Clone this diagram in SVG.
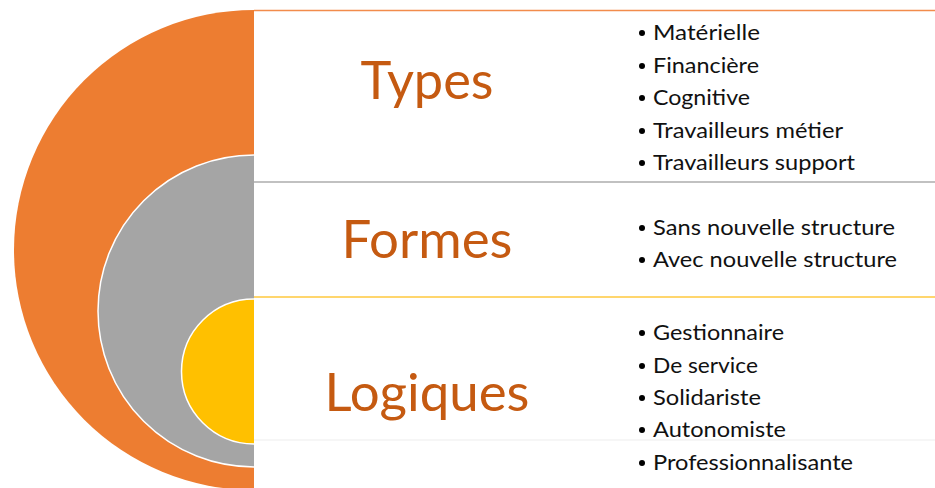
<svg xmlns="http://www.w3.org/2000/svg" width="935" height="488" viewBox="0 0 935 488">
<style>
.title{font-family:Lato,"Open Sans","Liberation Sans",sans-serif;font-size:52px;fill:#C55A11;text-anchor:middle}
.item{font-family:Lato,"Open Sans","Liberation Sans",sans-serif;font-size:21px;fill:#111}
.bul{fill:#000}
.sep{stroke:#fff;stroke-width:1.5;fill:none}
</style>
<rect width="935" height="488" fill="#fff"/>
<g id="types">
<path d="M254,10 A240,240 0 0 0 254,490 Z" fill="#ED7D31"/>
<line x1="254" y1="10.5" x2="935" y2="10.5" stroke="#F28C4C" stroke-width="1.5"/>
<text class="title" x="427" y="99" textLength="133" lengthAdjust="spacingAndGlyphs">Types</text>
<circle class="bul" cx="642" cy="33" r="3"/><text class="item" x="653" y="40" textLength="107" lengthAdjust="spacingAndGlyphs">Matérielle</text>
<circle class="bul" cx="642" cy="66" r="3"/><text class="item" x="653" y="73" textLength="106" lengthAdjust="spacingAndGlyphs">Financière</text>
<circle class="bul" cx="642" cy="98" r="3"/><text class="item" x="653" y="105" textLength="97" lengthAdjust="spacingAndGlyphs">Cognitive</text>
<circle class="bul" cx="642" cy="131" r="3"/><text class="item" x="653" y="138" textLength="190" lengthAdjust="spacingAndGlyphs">Travailleurs métier</text>
<circle class="bul" cx="642" cy="163" r="3"/><text class="item" x="653" y="170" textLength="202" lengthAdjust="spacingAndGlyphs">Travailleurs support</text>
</g>
<g id="formes">
<path d="M254,155 A156,156 0 0 0 254,467 Z" fill="#A5A5A5"/>
<path class="sep" d="M254,155 A156,156 0 0 0 254,467"/>
<line x1="254" y1="182" x2="935" y2="182" stroke="#ADADAD" stroke-width="1.5"/>
<text class="title" x="427" y="258" textLength="171" lengthAdjust="spacingAndGlyphs">Formes</text>
<circle class="bul" cx="642" cy="228" r="3"/><text class="item" x="653" y="235" textLength="242" lengthAdjust="spacingAndGlyphs">Sans nouvelle structure</text>
<circle class="bul" cx="642" cy="260" r="3"/><text class="item" x="653" y="267" textLength="244" lengthAdjust="spacingAndGlyphs">Avec nouvelle structure</text>
</g>
<g id="logiques">
<path d="M254,299 A72.5,72.5 0 0 0 254,444 Z" fill="#FFC000"/>
<path class="sep" d="M254,299 A72.5,72.5 0 0 0 254,444"/>
<line x1="254" y1="297" x2="935" y2="297" stroke="#FFC83D" stroke-width="1.5"/>
<line x1="254" y1="440" x2="935" y2="440" stroke="#EDEDED" stroke-width="1"/>
<text class="title" x="427" y="411" textLength="205" lengthAdjust="spacingAndGlyphs">Logiques</text>
<circle class="bul" cx="642" cy="333" r="3"/><text class="item" x="653" y="340" textLength="131" lengthAdjust="spacingAndGlyphs">Gestionnaire</text>
<circle class="bul" cx="642" cy="366" r="3"/><text class="item" x="653" y="373" textLength="105" lengthAdjust="spacingAndGlyphs">De service</text>
<circle class="bul" cx="642" cy="398" r="3"/><text class="item" x="653" y="405" textLength="108" lengthAdjust="spacingAndGlyphs">Solidariste</text>
<circle class="bul" cx="642" cy="430" r="3"/><text class="item" x="653" y="437" textLength="133" lengthAdjust="spacingAndGlyphs">Autonomiste</text>
<circle class="bul" cx="642" cy="463" r="3"/><text class="item" x="653" y="470" textLength="200" lengthAdjust="spacingAndGlyphs">Professionnalisante</text>
</g>
</svg>
